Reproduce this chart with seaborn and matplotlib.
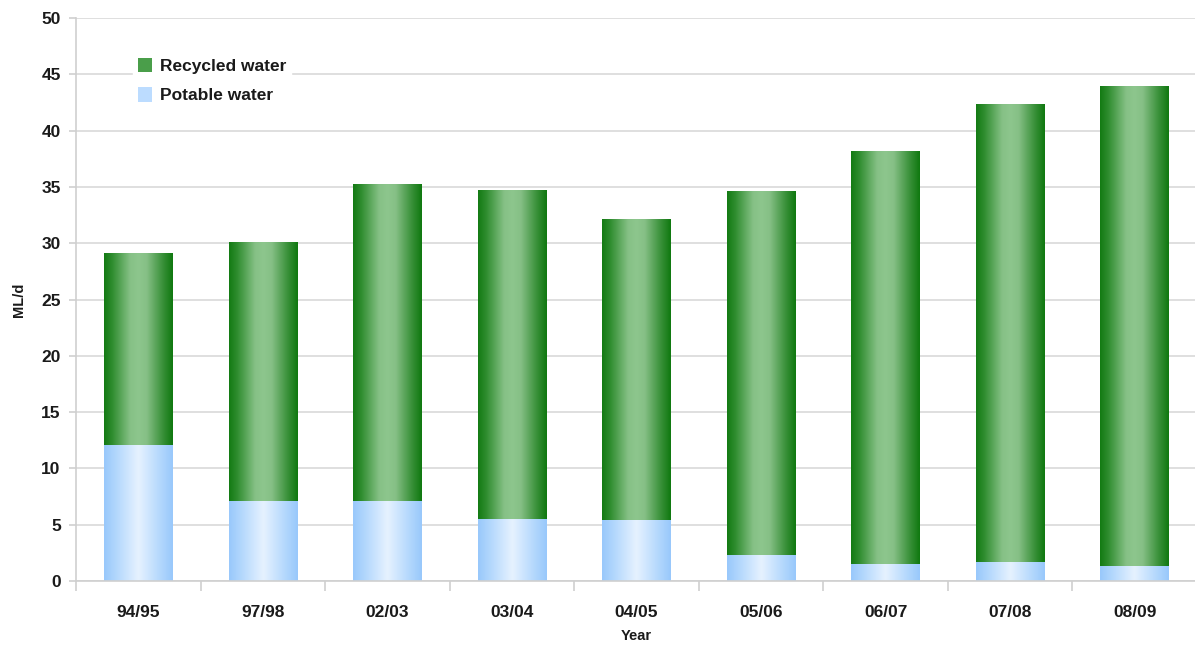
import numpy as np
import pandas as pd
import matplotlib
matplotlib.use("Agg")
import matplotlib.pyplot as plt
from matplotlib.colors import LinearSegmentedColormap
from matplotlib.patches import Patch
import seaborn as sns

years = ["94/95", "97/98", "02/03", "03/04", "04/05", "05/06", "06/07", "07/08", "08/09"]
potable = [12.0, 7.1, 7.1, 5.5, 5.4, 2.3, 1.5, 1.6, 1.25]
total = [29.1, 30.1, 35.2, 34.7, 32.1, 34.6, 38.1, 42.3, 43.9]

sns.set_theme(style="white")
plt.rcParams['font.family'] = ['Liberation Sans', 'DejaVu Sans']
plt.rcParams['font.weight'] = 'bold'

fig = plt.figure(figsize=(11.95, 6.48), dpi=100)
ax = fig.add_axes([76/1195, 67/648, (1197-76)/1195, (581-18)/648])

df = pd.DataFrame({"Year": years, "Total": total, "Potable": potable})
sns.barplot(data=df, x="Year", y="Total", color="#3d963d", width=0.55, ax=ax, saturation=1, zorder=2)
sns.barplot(data=df, x="Year", y="Potable", color="#b8dcff", width=0.55, ax=ax, saturation=1, zorder=2)

green_cmap = LinearSegmentedColormap.from_list("g", [
    (0.0, "#137a13"), (0.12, "#2f8d2f"), (0.38, "#86c186"), (0.5, "#8dc68d"),
    (0.62, "#86c086"), (0.85, "#3a913a"), (1.0, "#0f780f")])
blue_cmap = LinearSegmentedColormap.from_list("b", [
    (0.0, "#98c8fb"), (0.2, "#b6d9fd"), (0.5, "#e6f2ff"), (0.8, "#b6d9fd"), (1.0, "#98c8fb")])
grad = np.linspace(0, 1, 256).reshape(1, -1)

n = len(years)
for i, p in enumerate(list(ax.patches)):
    x, y = p.get_x(), p.get_y()
    w, h = p.get_width(), p.get_height()
    cmap = green_cmap if i < n else blue_cmap
    ax.imshow(grad, cmap=cmap, extent=[x, x + w, y, y + h], aspect="auto",
              interpolation="bicubic", zorder=3)
    p.set_facecolor("none")
    p.set_edgecolor("none")

ax.set_xlim(-0.5, n - 0.5)
ax.set_ylim(0, 50)
ax.set_yticks(np.arange(0, 51, 5))
ax.yaxis.grid(True, color="#dcdcdc", linewidth=1.3, zorder=0)
ax.set_axisbelow(True)

for s in ["top", "right"]:
    ax.spines[s].set_visible(False)
for s in ["left", "bottom"]:
    ax.spines[s].set_color("#cfcfcf")
    ax.spines[s].set_linewidth(1.2)
    ax.spines[s].set_zorder(4)

ax.tick_params(axis="y", which="major", left=True, length=5, width=1.2, color="#cfcfcf",
               labelsize=12.5, pad=6)
ax.set_xticks(np.arange(n))
ax.set_xticks(np.arange(n + 1) - 0.5, minor=True)
ax.tick_params(axis="x", which="major", bottom=False, length=0, labelsize=12.5, pad=17)
ax.tick_params(axis="x", which="minor", bottom=True, length=7, width=1.2, color="#cfcfcf")
for lab in ax.get_xticklabels() + ax.get_yticklabels():
    lab.set_fontweight("bold")
    lab.set_color("#1a1a1a")

ax.set_xlabel("Year", fontsize=10.5, fontweight="bold", color="#1a1a1a", labelpad=7)
ax.set_ylabel("ML/d", fontsize=10.5, fontweight="bold", color="#1a1a1a", labelpad=11)

handles = [Patch(facecolor="#4a9e4a", edgecolor="none", label="Recycled water"),
           Patch(facecolor="#bcdcff", edgecolor="none", label="Potable water")]
leg = ax.legend(handles=handles, loc="upper left", bbox_to_anchor=(124/1195, 1 - 44/648),
                bbox_transform=fig.transFigure, frameon=True, fancybox=False,
                framealpha=1, edgecolor="white", facecolor="white",
                prop={"weight": "bold", "size": 12.5}, handlelength=0.8, handleheight=0.9,
                handletextpad=0.45, labelspacing=0.75, borderpad=0.3)
leg.set_zorder(5)
for t in leg.get_texts():
    t.set_color("#1a1a1a")

fig.savefig("out.png", dpi=100)
